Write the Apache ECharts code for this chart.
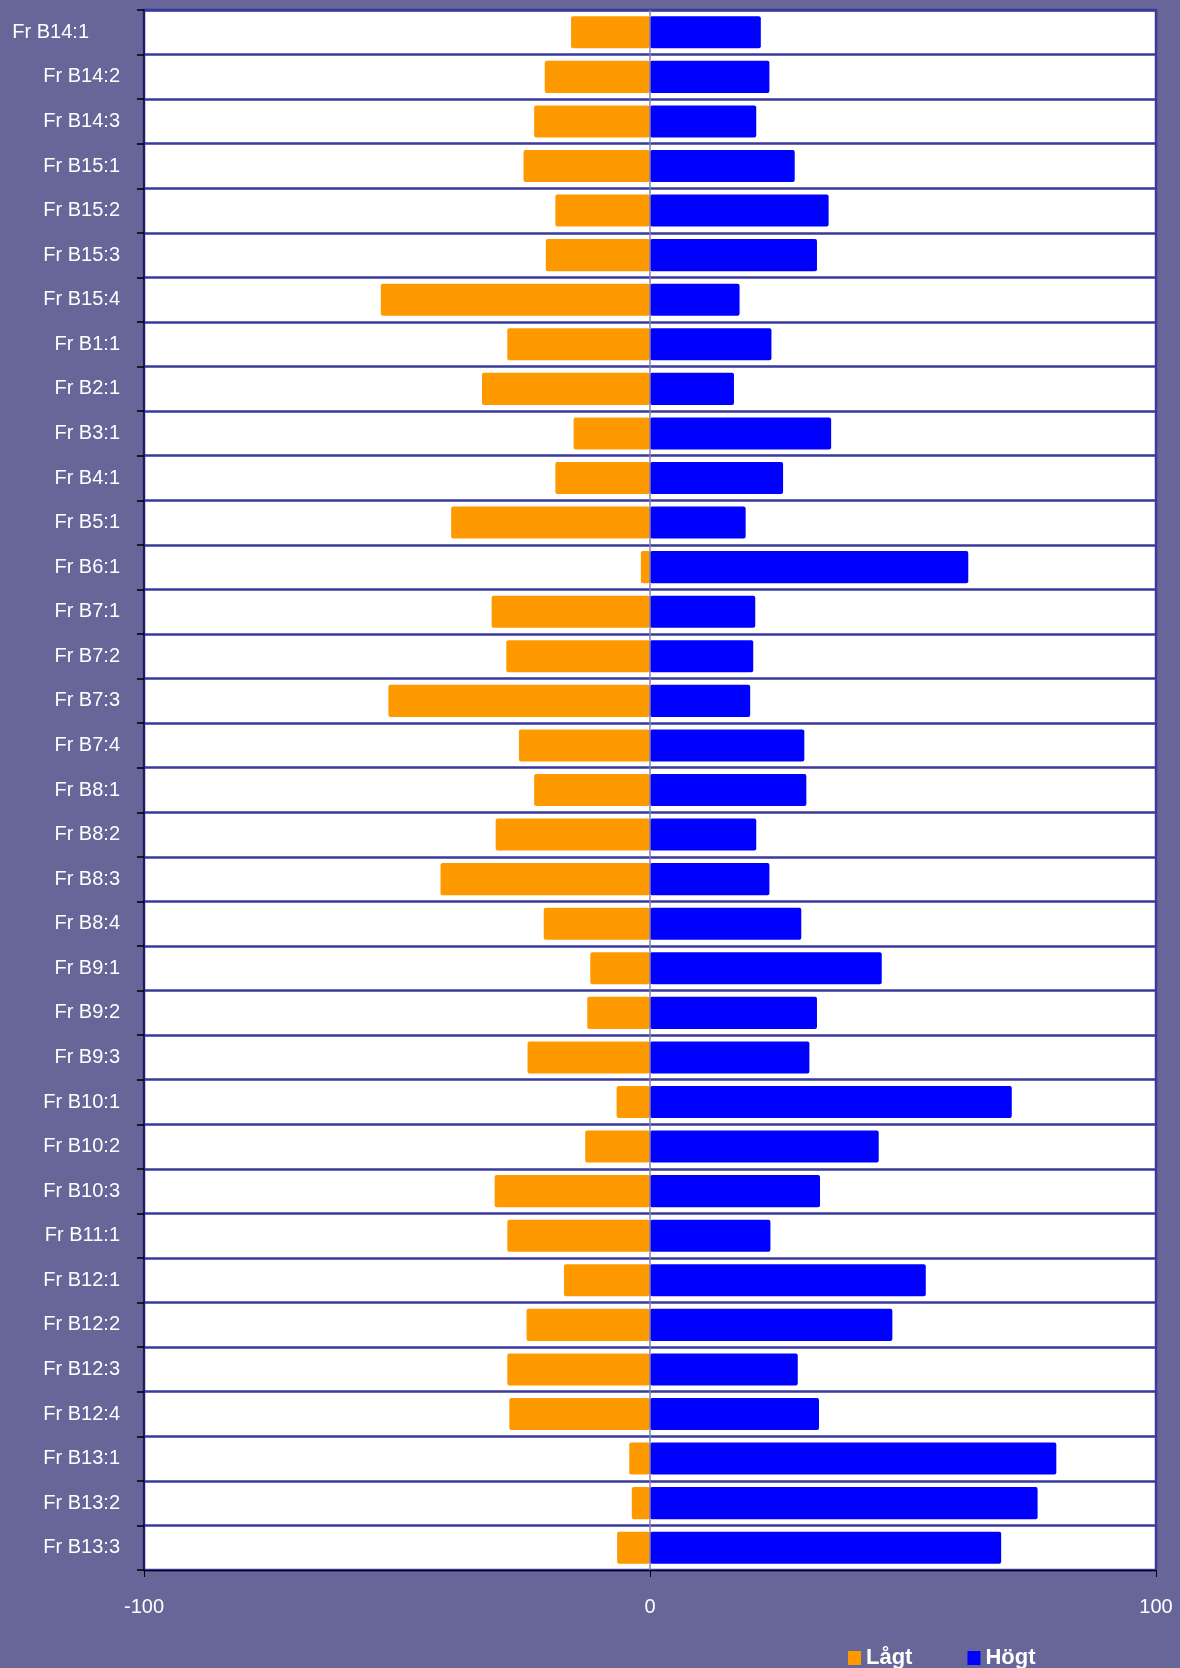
<!DOCTYPE html>
<html>
<head>
<meta charset="utf-8">
<script src="https://cdn.jsdelivr.net/npm/echarts@6/dist/echarts.min.js"></script>
<style>
html,body{margin:0;padding:0;background:#666699;}
#chart{width:1180px;height:1668px;}
</style>
</head>
<body>
<div id="chart"></div>
<script>
const categories = ["Fr B14:1","Fr B14:2","Fr B14:3","Fr B15:1","Fr B15:2","Fr B15:3","Fr B15:4","Fr B1:1","Fr B2:1","Fr B3:1","Fr B4:1","Fr B5:1","Fr B6:1","Fr B7:1","Fr B7:2","Fr B7:3","Fr B7:4","Fr B8:1","Fr B8:2","Fr B8:3","Fr B8:4","Fr B9:1","Fr B9:2","Fr B9:3","Fr B10:1","Fr B10:2","Fr B10:3","Fr B11:1","Fr B12:1","Fr B12:2","Fr B12:3","Fr B12:4","Fr B13:1","Fr B13:2","Fr B13:3"];
const lagt = [-15.6,-20.8,-22.9,-25.0,-18.7,-20.6,-53.2,-28.2,-33.2,-15.1,-18.7,-39.3,-1.8,-31.3,-28.4,-51.7,-25.9,-22.9,-30.5,-41.4,-21.0,-11.8,-12.4,-24.2,-6.6,-12.8,-30.7,-28.2,-17.0,-24.4,-28.2,-27.8,-4.1,-3.6,-6.5];
const hogt = [21.9,23.6,21.0,28.6,35.3,33.0,17.7,24.0,16.6,35.8,26.3,18.9,62.9,20.8,20.4,19.8,30.5,30.9,21.0,23.6,29.9,45.8,33.0,31.5,71.5,45.2,33.6,23.8,54.5,47.9,29.2,33.4,80.3,76.6,69.4];
const seriesNames = ["Lågt","Högt"];
const xTicks = {min:-100, max:100, interval:100};

const catData = categories.map((c,i) => i === 0
  ? {value:c, textStyle:{padding:[0,31,0,0]}}
  : c);

const chart = echarts.init(document.getElementById('chart'));
chart.setOption({
  backgroundColor:'#666699',
  animation:false,
  grid:{left:144, right:24, top:10, bottom:98, show:true, backgroundColor:'#ffffff', borderColor:'#3a3a9c', borderWidth:2.5},
  legend:{
    left:843, top:1642, icon:'rect', itemWidth:13, itemHeight:14, itemGap:55,
    textStyle:{color:'#ffffff', fontSize:22, fontWeight:'bold', fontFamily:'Liberation Sans, Arial, sans-serif'},
    data:seriesNames
  },
  xAxis:{
    type:'value', min:xTicks.min, max:xTicks.max, interval:xTicks.interval,
    axisLine:{show:true, onZero:false, lineStyle:{color:'#000000', width:1}},
    axisTick:{show:true, length:7, lineStyle:{color:'#000000'}},
    axisLabel:{color:'#ffffff', fontSize:20, margin:27, fontFamily:'Liberation Sans, Arial, sans-serif'},
    splitLine:{show:false}
  },
  yAxis:{
    type:'category', inverse:true, data:catData,
    axisLine:{show:true, onZero:false, lineStyle:{color:'#1c1c5e', width:2}},
    axisTick:{show:true, inside:false, interval:0, length:7, lineStyle:{color:'#000000', width:1.5}},
    axisLabel:{color:'#ffffff', fontSize:20, margin:24, fontFamily:'Liberation Sans, Arial, sans-serif'},
    splitLine:{show:true, lineStyle:{color:'#3a3a9c', width:2.5}}
  },
  series:[
    {name:seriesNames[0], type:'bar', stack:'s', data:lagt, barCategoryGap:'28%',
     itemStyle:{color:'#ff9900', borderRadius:2},
     markLine:{silent:true, symbol:'none', label:{show:false}, lineStyle:{color:'#7f7fb8', width:1.5, type:'solid'}, data:[{xAxis:0}]}
    },
    {name:seriesNames[1], type:'bar', stack:'s', data:hogt, barCategoryGap:'28%',
     itemStyle:{color:'#0000ff', borderRadius:2}}
  ]
});
</script>
</body>
</html>
